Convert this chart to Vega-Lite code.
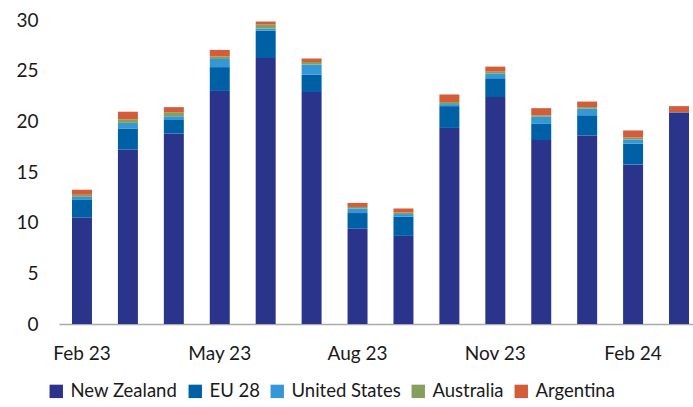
{
  "$schema": "https://vega.github.io/schema/vega-lite/v6.json",
  "width": 634,
  "height": 304,
  "autosize": {"type": "none"},
  "padding": {"left": 59, "top": 20, "right": 0, "bottom": 83},
  "background": "white",
  "config": {
    "view": {"stroke": null},
    "font": "Lato",
    "axis": {"labelFont": "Lato", "labelColor": "#1a1a1a", "labelFontSize": 19, "grid": false, "ticks": false, "tickSize": 0, "title": null},
    "legend": {"labelFont": "Lato", "labelFontSize": 18.5, "labelColor": "#1a1a1a"}
  },
  "datasets": {
    "countries": [
      {"country": "New Zealand", "rank": 1},
      {"country": "EU 28", "rank": 2},
      {"country": "United States", "rank": 3},
      {"country": "Australia", "rank": 4},
      {"country": "Argentina", "rank": 5}
    ]
  },
  "data": {
    "values": [
      {"month": "Feb 23", "New Zealand": 10.5, "EU 28": 1.8, "United States": 0.25, "Australia": 0.2, "Argentina": 0.5},
      {"month": "Mar 23", "New Zealand": 17.2, "EU 28": 2.1, "United States": 0.55, "Australia": 0.35, "Argentina": 0.75},
      {"month": "Apr 23", "New Zealand": 18.8, "EU 28": 1.4, "United States": 0.3, "Australia": 0.4, "Argentina": 0.5},
      {"month": "May 23", "New Zealand": 23.0, "EU 28": 2.35, "United States": 0.8, "Australia": 0.25, "Argentina": 0.65},
      {"month": "Jun 23", "New Zealand": 26.25, "EU 28": 2.7, "United States": 0.2, "Australia": 0.4, "Argentina": 0.3},
      {"month": "Jul 23", "New Zealand": 22.9, "EU 28": 1.7, "United States": 1.0, "Australia": 0.25, "Argentina": 0.35},
      {"month": "Aug 23", "New Zealand": 9.4, "EU 28": 1.55, "United States": 0.45, "Australia": 0.15, "Argentina": 0.4},
      {"month": "Sep 23", "New Zealand": 8.7, "EU 28": 1.9, "United States": 0.25, "Australia": 0.15, "Argentina": 0.4},
      {"month": "Oct 23", "New Zealand": 19.35, "EU 28": 2.15, "United States": 0.2, "Australia": 0.2, "Argentina": 0.75},
      {"month": "Nov 23", "New Zealand": 22.4, "EU 28": 1.85, "United States": 0.45, "Australia": 0.2, "Argentina": 0.5},
      {"month": "Dec 23", "New Zealand": 18.15, "EU 28": 1.6, "United States": 0.7, "Australia": 0.15, "Argentina": 0.7},
      {"month": "Jan 24", "New Zealand": 18.6, "EU 28": 2.0, "United States": 0.65, "Australia": 0.15, "Argentina": 0.55},
      {"month": "Feb 24", "New Zealand": 15.75, "EU 28": 2.05, "United States": 0.4, "Australia": 0.2, "Argentina": 0.7},
      {"month": "Mar 24", "New Zealand": 20.85, "EU 28": 0.05, "United States": 0.0, "Australia": 0.0, "Argentina": 0.6}
    ]
  },
  "transform": [
    {"fold": ["New Zealand", "EU 28", "United States", "Australia", "Argentina"], "as": ["country", "value"]},
    {"lookup": "country", "from": {"data": {"name": "countries"}, "key": "country", "fields": ["rank"]}}
  ],
  "mark": {"type": "bar"},
  "encoding": {
    "x": {
      "field": "month",
      "type": "ordinal",
      "sort": null,
      "scale": {"range": [0, 643], "paddingInner": 0.565, "paddingOuter": 0.283},
      "axis": {
        "values": ["Feb 23", "May 23", "Aug 23", "Nov 23", "Feb 24"],
        "labelAngle": 0,
        "labelPadding": 20,
        "domainColor": "#aaaaaa",
        "domainWidth": 1.5
      }
    },
    "y": {
      "field": "value",
      "type": "quantitative",
      "stack": "zero",
      "scale": {"domain": [0, 30], "nice": false},
      "axis": {"values": [0, 5, 10, 15, 20, 25, 30], "domain": false, "labelPadding": 21}
    },
    "color": {
      "field": "country",
      "type": "nominal",
      "sort": ["New Zealand", "EU 28", "United States", "Australia", "Argentina"],
      "scale": {
        "domain": ["New Zealand", "EU 28", "United States", "Australia", "Argentina"],
        "range": ["#2a348b", "#0060a6", "#3597d6", "#84a05c", "#d35c3b"]
      },
      "legend": {
        "title": null,
        "orient": "none",
        "direction": "horizontal",
        "legendX": -12,
        "legendY": 362,
        "symbolType": "square",
        "symbolSize": 180,
        "symbolStrokeWidth": 0,
        "labelOffset": 5,
        "columnPadding": 8
      }
    },
    "order": {"field": "rank", "type": "quantitative", "sort": "ascending"}
  }
}
